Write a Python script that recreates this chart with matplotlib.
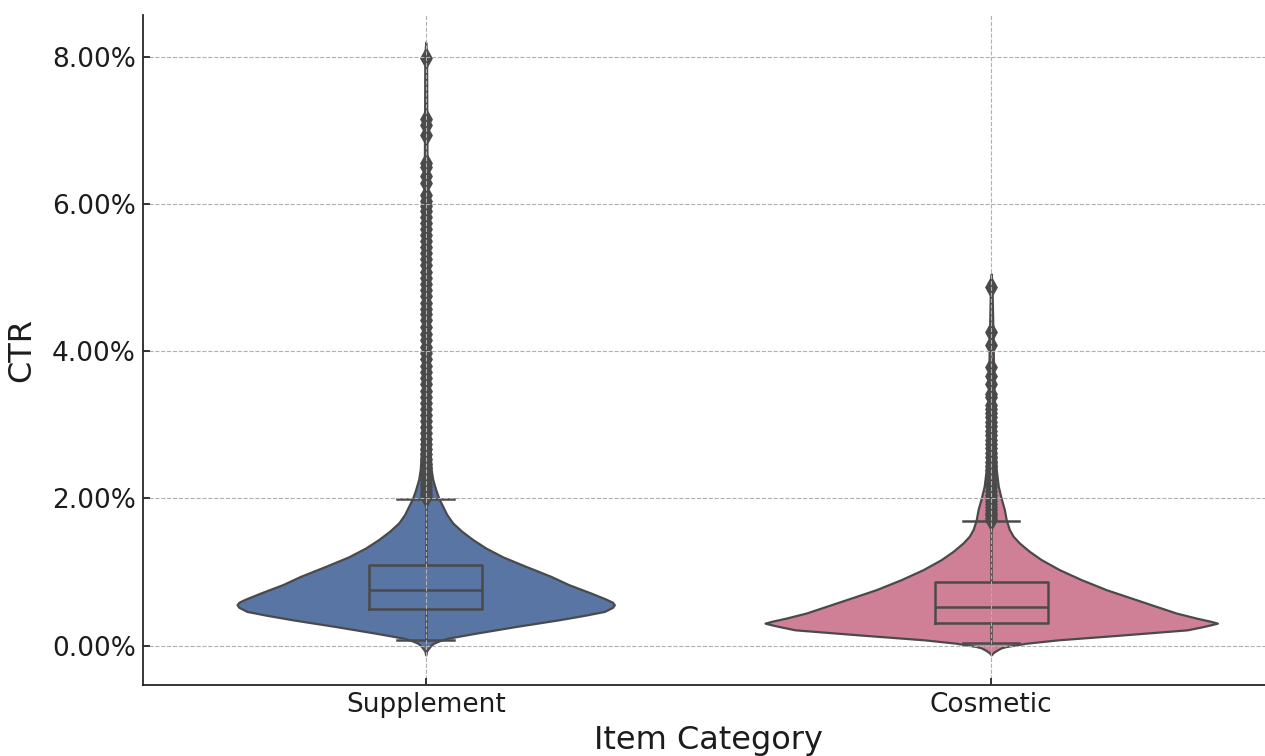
import matplotlib
matplotlib.use("Agg")
import matplotlib.pyplot as plt
from matplotlib.ticker import PercentFormatter

# categories and colours
categories = ["Supplement", "Cosmetic"]
colors = ["#5875a4", "#cf8097"]

# violin outlines: CTR (%) and relative density (max = 1)
supp_y = [-0.127, -0.07, -0.036, 0.0, 0.032, 0.065, 0.100, 0.168, 0.259, 0.350,
          0.410, 0.464, 0.520, 0.555, 0.590, 0.632, 0.714, 0.827, 0.941, 1.077,
          1.205, 1.327, 1.441, 1.555, 1.668, 1.782, 1.895, 2.0, 2.123, 2.259,
          2.395, 2.6, 3.0, 4.0, 5.0, 6.0, 7.0, 8.0, 8.2]
supp_d = [0, .004, .013, .022, .035, .060, .097, .221, .398, .588,
          .700, .790, .826, .834, .825, .796, .730, .633, .553, .442,
          .341, .265, .208, .159, .119, .093, .075, .058, .044, .031,
          .024, .020, .015, .011, .009, .007, .005, .004, 0]

cos_y = [-0.127, -0.095, -0.059, -0.030, -0.013, 0.032, 0.078, 0.146, 0.214, 0.259,
         0.285, 0.305, 0.330, 0.373, 0.441, 0.532, 0.646, 0.759, 0.896, 1.032,
         1.168, 1.282, 1.396, 1.486, 1.577, 1.714, 1.850, 2.0, 2.168, 2.395,
         3.0, 3.6, 4.2, 4.8, 5.05]
cos_d = [0, .009, .027, .045, .066, .155, .296, .588, .867, .938,
         .975, 1.0, .970, .907, .819, .730, .619, .509, .398, .301,
         .221, .168, .124, .097, .080, .066, .058, .044, .031, .022,
         .015, .011, .008, .004, 0]

# box plot statistics (CTR %)
q1 = [0.50, 0.30]
med = [0.75, 0.52]
q3 = [1.10, 0.86]
whislo = [0.08, 0.03]
whishi = [1.99, 1.69]

supp_fliers = [2.02, 2.05, 2.08, 2.12, 2.16, 2.2, 2.25, 2.3, 2.35, 2.41, 2.47, 2.53,
               2.6, 2.67, 2.74, 2.81, 2.89, 2.97, 3.05, 3.13, 3.21, 3.3, 3.38, 3.46,
               3.55, 3.63, 3.72, 3.8, 3.89, 3.97, 4.06, 4.15, 4.24, 4.33, 4.42, 4.5,
               4.58, 4.66, 4.75, 4.83, 4.92, 5.0, 5.08, 5.17, 5.25, 5.34, 5.42, 5.5,
               5.58, 5.66, 5.74, 5.82, 5.9, 5.98, 6.04, 6.12, 6.29, 6.38, 6.51, 6.56,
               6.94, 7.08, 7.16, 7.98]
cos_fliers = [1.71, 1.74, 1.77, 1.8, 1.84, 1.88, 1.92, 1.96, 2.0, 2.05, 2.1, 2.15,
              2.2, 2.26, 2.32, 2.38, 2.44, 2.5, 2.56, 2.62, 2.68, 2.74, 2.8, 2.86,
              2.92, 2.98, 3.04, 3.1, 3.16, 3.22, 3.27, 3.38, 3.42, 3.55, 3.67, 3.78,
              4.08, 4.26, 4.87]

outlines = [(supp_y, supp_d), (cos_y, cos_d)]
fliers = [supp_fliers, cos_fliers]
line_col = "#4a4a4a"
text_col = "#1c1c1c"

fig = plt.figure(figsize=(12.65, 7.56), dpi=100)
ax = fig.add_axes([0.1130, 0.0939, 0.8941, 0.8863])

# violins
for i, (ys, ds) in enumerate(outlines):
    left = [i - 0.4 * d for d in ds]
    right = [i + 0.4 * d for d in ds]
    ax.fill_betweenx(ys, left, right, facecolor=colors[i],
                     edgecolor=line_col, linewidth=1.6, zorder=1)

# inner boxes
stats = []
for i in range(len(categories)):
    stats.append({"med": med[i], "q1": q1[i], "q3": q3[i],
                  "whislo": whislo[i], "whishi": whishi[i],
                  "fliers": fliers[i]})
lp = dict(color=line_col, linewidth=1.8)
ax.bxp(stats, positions=[0, 1], widths=0.2, showfliers=True,
       boxprops=lp, whiskerprops=lp, capprops=lp, medianprops=lp,
       flierprops=dict(marker="d", markersize=9, markerfacecolor=line_col,
                       markeredgecolor=line_col, markeredgewidth=1.8,
                       linestyle="none"))

ax.set_xlim(-0.5, 1.5)
ax.set_ylim(-0.536, 8.57)
ax.set_yticks([0, 2, 4, 6, 8])
ax.yaxis.set_major_formatter(PercentFormatter(xmax=100, decimals=2))
ax.set_xticks([0, 1])
ax.set_xticklabels(categories)

ax.grid(True, color="#b0b0b0", linestyle="--", linewidth=0.8)
ax.set_axisbelow(False)

for side in ["top", "right"]:
    ax.spines[side].set_visible(False)
for side in ["left", "bottom"]:
    ax.spines[side].set_color("#262626")
    ax.spines[side].set_linewidth(1.3)

ax.tick_params(axis="both", direction="in", length=5, width=1.3,
               color="#262626", labelsize=19, labelcolor=text_col, pad=5)
ax.set_xlabel("Item Category", fontsize=23, color=text_col, labelpad=5)
ax.set_ylabel("CTR", fontsize=23, color=text_col, labelpad=11)

fig.savefig("out.png", dpi=100)
